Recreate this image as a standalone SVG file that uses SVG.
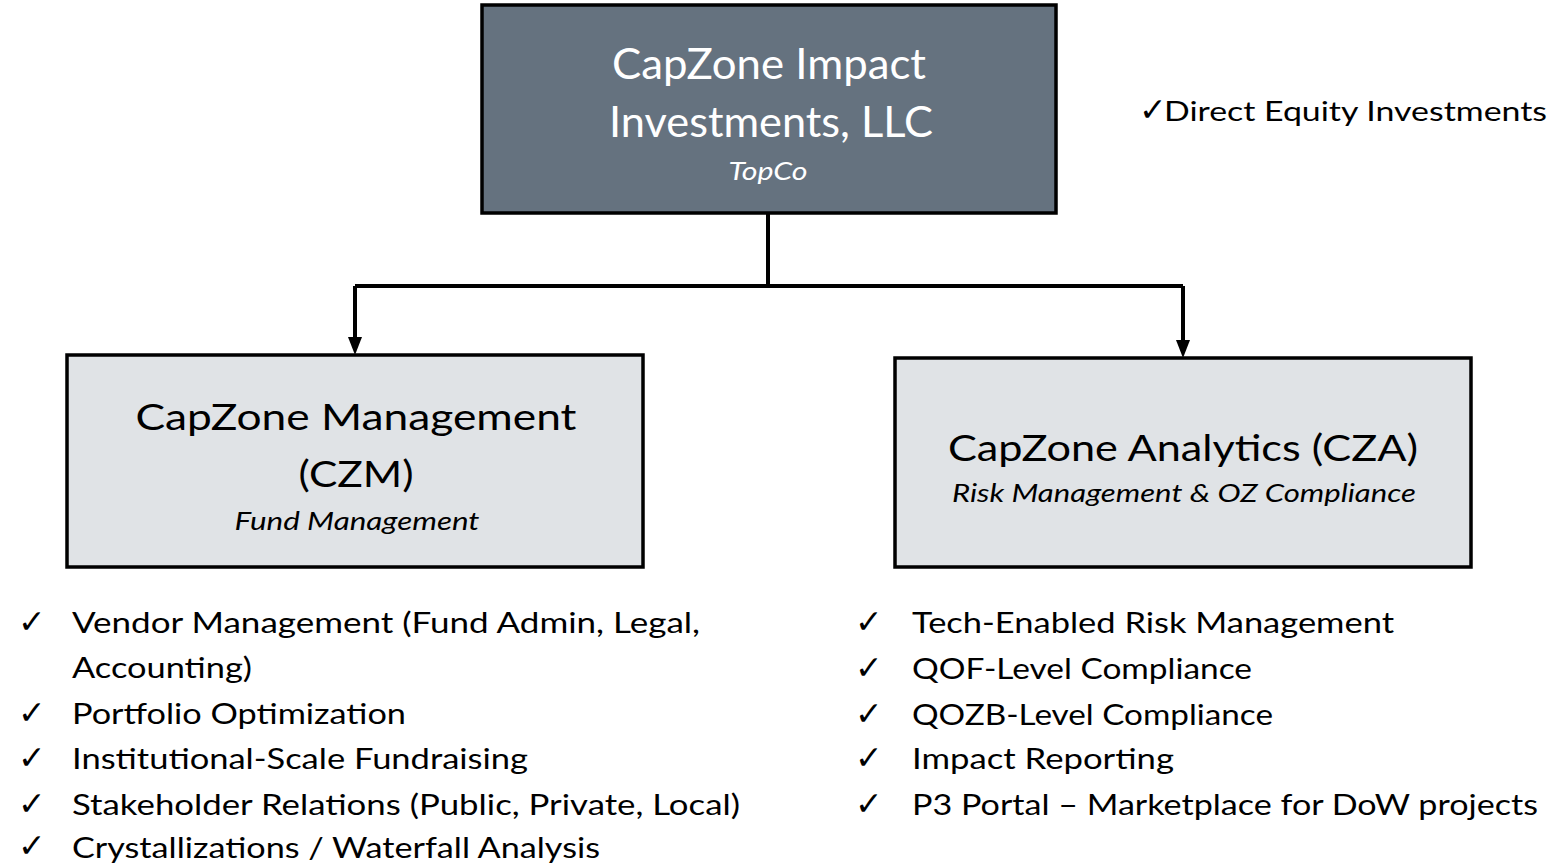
<svg xmlns="http://www.w3.org/2000/svg" width="1555" height="866" viewBox="0 0 1555 866">
  <style>
    .t { font-family: Lato, "Open Sans", "Liberation Sans", sans-serif; fill: #000; }
    .w { fill: #fff; }
    .i { font-style: italic; }
    .mid { text-anchor: middle; }
    .chk { font-family: "DejaVu Sans", sans-serif; font-size: 33px; fill: #000; }
    .box { stroke: #000; stroke-width: 3.5; }
    .conn { fill: none; stroke: #000; stroke-width: 4; }
    .head { fill: #000; }
  </style>
  <rect width="1555" height="866" fill="#fff"/>

  <!-- connectors -->
  <g id="connectors">
    <path class="conn" d="M768,214 V286"/>
    <path class="conn" d="M355,286 H1183"/>
    <path class="conn" d="M355,286 V340"/>
    <path class="conn" d="M1183,286 V343"/>
    <polygon class="head" points="348,337 362,337 355,355"/>
    <polygon class="head" points="1176,340 1190,340 1183,358"/>
  </g>

  <!-- top company -->
  <g id="topco">
    <rect class="box" x="482" y="5" width="574" height="208" fill="#65727f"/>
    <text class="t w mid" x="769" y="79" font-size="43" textLength="314" lengthAdjust="spacingAndGlyphs">CapZone Impact</text>
    <text class="t w mid" x="771" y="137" font-size="43" textLength="324" lengthAdjust="spacingAndGlyphs">Investments, LLC</text>
    <text class="t w i mid" x="768" y="180" font-size="25" textLength="79" lengthAdjust="spacingAndGlyphs">TopCo</text>
  </g>

  <g id="topco-note">
    <text class="chk" x="1139" y="121" font-size="21">✓</text>
    <text class="t" x="1164" y="121" font-size="26" textLength="383" lengthAdjust="spacingAndGlyphs">Direct Equity Investments</text>
  </g>

  <!-- fund management -->
  <g id="czm">
    <rect class="box" x="67" y="355" width="576" height="212" fill="#e0e3e6"/>
    <text class="t mid" x="356" y="430" font-size="37" textLength="441" lengthAdjust="spacingAndGlyphs">CapZone Management</text>
    <text class="t mid" x="356" y="487" font-size="37" textLength="115" lengthAdjust="spacingAndGlyphs">(CZM)</text>
    <text class="t i mid" x="357" y="530" font-size="25" textLength="245" lengthAdjust="spacingAndGlyphs">Fund Management</text>
  </g>

  <!-- analytics -->
  <g id="cza">
    <rect class="box" x="895" y="358" width="576" height="209" fill="#e0e3e6"/>
    <text class="t mid" x="1183" y="461" font-size="37" textLength="470" lengthAdjust="spacingAndGlyphs">CapZone Analytics (CZA)</text>
    <text class="t i mid" x="1184" y="502" font-size="25" textLength="464" lengthAdjust="spacingAndGlyphs">Risk Management &amp; OZ Compliance</text>
  </g>

  <!-- CZM duties -->
  <g id="czm-list" font-size="29">
    <text class="chk" x="18" y="633">✓</text>
    <text class="t" x="72" y="633" textLength="628" lengthAdjust="spacingAndGlyphs">Vendor Management (Fund Admin, Legal,</text>
    <text class="t" x="72" y="678" textLength="180" lengthAdjust="spacingAndGlyphs">Accounting)</text>
    <text class="chk" x="18" y="724">✓</text>
    <text class="t" x="72" y="724" textLength="334" lengthAdjust="spacingAndGlyphs">Portfolio Optimization</text>
    <text class="chk" x="18" y="769">✓</text>
    <text class="t" x="72" y="769" textLength="456" lengthAdjust="spacingAndGlyphs">Institutional-Scale Fundraising</text>
    <text class="chk" x="18" y="815">✓</text>
    <text class="t" x="72" y="815" textLength="668" lengthAdjust="spacingAndGlyphs">Stakeholder Relations (Public, Private, Local)</text>
    <text class="chk" x="18" y="857">✓</text>
    <text class="t" x="72" y="858" textLength="528" lengthAdjust="spacingAndGlyphs">Crystallizations / Waterfall Analysis</text>
  </g>

  <!-- CZA duties -->
  <g id="cza-list" font-size="29">
    <text class="chk" x="855" y="633">✓</text>
    <text class="t" x="912" y="633" textLength="482" lengthAdjust="spacingAndGlyphs">Tech-Enabled Risk Management</text>
    <text class="chk" x="855" y="679">✓</text>
    <text class="t" x="912" y="679" textLength="340" lengthAdjust="spacingAndGlyphs">QOF-Level Compliance</text>
    <text class="chk" x="855" y="725">✓</text>
    <text class="t" x="912" y="725" textLength="361" lengthAdjust="spacingAndGlyphs">QOZB-Level Compliance</text>
    <text class="chk" x="855" y="769">✓</text>
    <text class="t" x="912" y="769" textLength="262" lengthAdjust="spacingAndGlyphs">Impact Reporting</text>
    <text class="chk" x="855" y="815">✓</text>
    <text class="t" x="912" y="815" textLength="626" lengthAdjust="spacingAndGlyphs">P3 Portal – Marketplace for DoW projects</text>
  </g>
</svg>
